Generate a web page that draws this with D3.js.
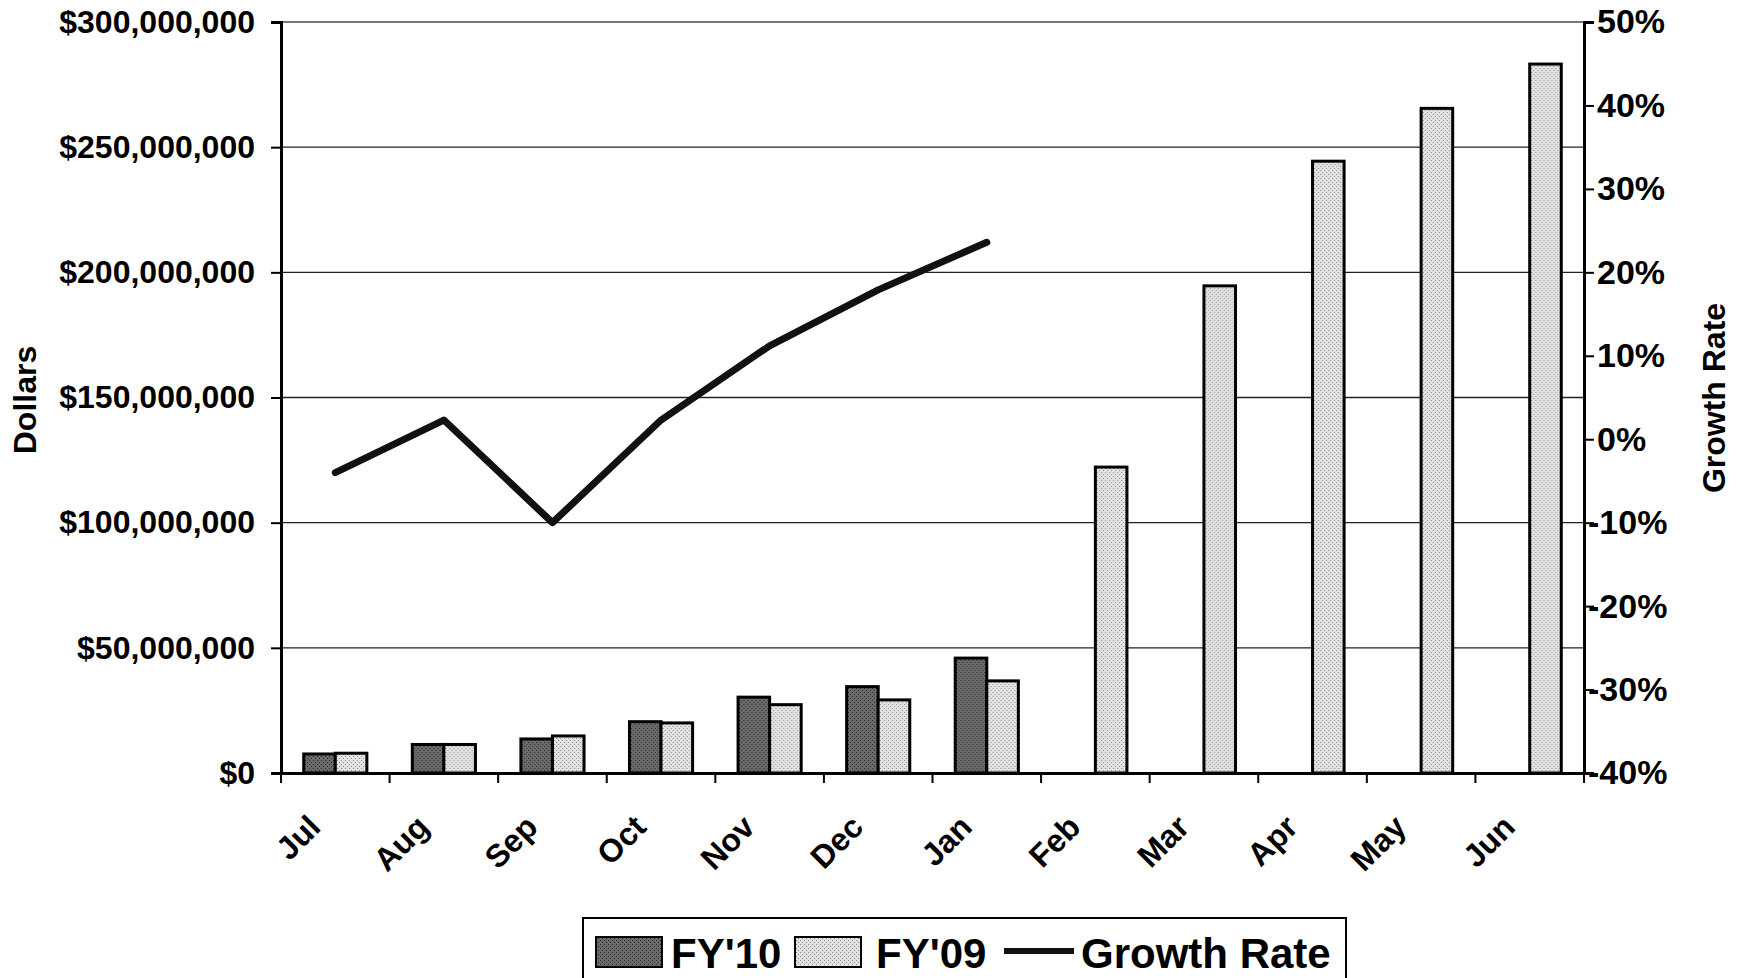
<!DOCTYPE html>
<html>
<head>
<meta charset="utf-8">
<script src="https://cdn.jsdelivr.net/npm/d3@7"></script>
<style>
  html, body { margin: 0; padding: 0; background: #fff; }
  svg { display: block; }
  text { font-family: "Liberation Sans", Arial, sans-serif; font-weight: bold; fill: #000; }
</style>
</head>
<body>
<svg id="chart" width="1739" height="978"></svg>
<script>
// ---- data ----
const months = ["Jul","Aug","Sep","Oct","Nov","Dec","Jan","Feb","Mar","Apr","May","Jun"];
const fy10 = [7.6e6, 11.4e6, 13.6e6, 20.5e6, 30.3e6, 34.5e6, 45.9e6, null, null, null, null, null];
const fy09 = [7.9e6, 11.4e6, 14.8e6, 20.0e6, 27.3e6, 29.2e6, 36.8e6, 122.2e6, 194.6e6, 244.4e6, 265.5e6, 283.2e6];
const growth = [-4.0, 2.3, -10.0, 2.3, 11.2, 17.9, 23.6];
const dollarTicks = [0, 50e6, 100e6, 150e6, 200e6, 250e6, 300e6];
const pctTicks = [-40, -30, -20, -10, 0, 10, 20, 30, 40, 50];
const seriesNames = ["FY'10", "FY'09"];
const legendItems = ["FY'10", "FY'09", "Growth Rate"];

// ---- layout ----
const svg = d3.select("#chart");
const pLeft = 281, pRight = 1584, pTop = 22, pBottom = 773;
const colFY10 = "#505050", colFY09 = "#d0d0d0";

// stipple patterns to mimic the scanned bar fills
const defs = svg.append("defs");
function stipple(id, base, dot, dotColor) {
  const p = defs.append("pattern").attr("id", id).attr("patternUnits", "userSpaceOnUse")
    .attr("width", 4).attr("height", 4);
  p.append("rect").attr("width", 4).attr("height", 4).attr("fill", base);
  p.append("rect").attr("x", 0).attr("y", 0).attr("width", dot).attr("height", dot).attr("fill", dotColor);
  p.append("rect").attr("x", 2).attr("y", 2).attr("width", dot).attr("height", dot).attr("fill", dotColor);
}
stipple("pat10", "#6a6a6a", 1, "#2a2a2a");
stipple("pat09", "#e2e2e2", 1, "#8a8a8a");

const x = d3.scaleBand().domain(months).range([pLeft, pRight]).padding(0);
const x1 = d3.scaleBand().domain(seriesNames).range([0, x.bandwidth()]).paddingInner(0).paddingOuter(0.72);
const y = d3.scaleLinear().domain([0, 300e6]).range([pBottom, pTop]);
const y2 = d3.scaleLinear().domain([-40, 50]).range([pBottom, pTop]);

const fmtDollar = v => "$" + d3.format(",")(v);

// gridlines
svg.append("g").selectAll("line").data(dollarTicks.filter(d => d > 0)).join("line")
  .attr("x1", pLeft).attr("x2", pRight)
  .attr("y1", d => y(d)).attr("y2", d => y(d))
  .attr("stroke", d => d === 300e6 ? "#777" : "#222")
  .attr("stroke-width", d => d === 300e6 ? 2 : 1.4);

// bars
const groups = svg.append("g").selectAll("g").data(months).join("g")
  .attr("transform", d => `translate(${x(d)},0)`);

groups.filter((d, i) => fy10[i] != null).append("rect")
  .attr("x", x1("FY'10"))
  .attr("y", d => y(fy10[months.indexOf(d)]))
  .attr("width", x1.bandwidth())
  .attr("height", d => y(0) - y(fy10[months.indexOf(d)]))
  .attr("fill", "url(#pat10)").attr("stroke", "#000").attr("stroke-width", 3);

groups.filter((d, i) => fy09[i] != null).append("rect")
  .attr("x", x1("FY'09"))
  .attr("y", d => y(fy09[months.indexOf(d)]))
  .attr("width", x1.bandwidth())
  .attr("height", d => y(0) - y(fy09[months.indexOf(d)]))
  .attr("fill", "url(#pat09)").attr("stroke", "#000").attr("stroke-width", 3);

// left axis
const yAxis = d3.axisLeft(y).tickValues(dollarTicks).tickFormat(fmtDollar).tickSize(10).tickPadding(16);
const gy = svg.append("g").attr("transform", `translate(${pLeft},0)`).call(yAxis);
gy.select(".domain").attr("stroke", "#000").attr("stroke-width", 3);
gy.selectAll(".tick line").attr("stroke", "#000").attr("stroke-width", 2);
gy.selectAll(".tick text").style("font-size", "32px").style("font-family", "Liberation Sans, Arial, sans-serif").style("font-weight", "bold");

// right axis
const yAxisR = d3.axisRight(y2).tickValues(pctTicks).tickFormat(d => d + "%").tickSize(10).tickPadding(13);
const gr = svg.append("g").attr("transform", `translate(${pRight},0)`).call(yAxisR);
gr.select(".domain").attr("stroke", "#000").attr("stroke-width", 3);
gr.selectAll(".tick line").attr("stroke", "#000").attr("stroke-width", 2);
gr.selectAll(".tick text").style("font-size", "34px").style("font-family", "Liberation Sans, Arial, sans-serif").style("font-weight", "bold")
  .attr("x", d => d < 0 ? 4 : 13);

// bottom axis
const xAxis = d3.axisBottom(x).tickSize(0).tickFormat("");
const gx = svg.append("g").attr("transform", `translate(0,${pBottom})`).call(xAxis);
gx.select(".domain").attr("stroke", "#000").attr("stroke-width", 3);
// boundary tick marks
svg.append("g").selectAll("line").data(d3.range(months.length + 1)).join("line")
  .attr("x1", i => pLeft + i * x.step()).attr("x2", i => pLeft + i * x.step())
  .attr("y1", pBottom).attr("y2", pBottom + 10)
  .attr("stroke", "#000").attr("stroke-width", 2);
// rotated month labels
svg.append("g").selectAll("text").data(months).join("text")
  .attr("transform", d => `translate(${x(d) + x.bandwidth() / 2 - 13},${pBottom + 56}) rotate(-45)`)
  .attr("text-anchor", "end")
  .style("font-size", "32px")
  .text(d => d);

// growth line
const line = d3.line().x((d, i) => x(months[i]) + x.bandwidth() / 2).y(d => y2(d));
svg.append("path").datum(growth)
  .attr("d", line)
  .attr("fill", "none").attr("stroke", "#111").attr("stroke-width", 7)
  .attr("stroke-linejoin", "round").attr("stroke-linecap", "round");

// axis titles
svg.append("text")
  .attr("transform", `translate(36,400) rotate(-90)`)
  .attr("text-anchor", "middle").style("font-size", "32px").text("Dollars");
svg.append("text")
  .attr("transform", `translate(1725,398) rotate(-90)`)
  .attr("text-anchor", "middle").style("font-size", "32px").text("Growth Rate");

// legend
const lg = svg.append("g");
lg.append("rect").attr("x", 583).attr("y", 918).attr("width", 763).attr("height", 80)
  .attr("fill", "#fff").attr("stroke", "#000").attr("stroke-width", 2);
const legendY = 968;
lg.append("rect").attr("x", 596).attr("y", 937).attr("width", 66).attr("height", 30)
  .attr("fill", "url(#pat10)").attr("stroke", "#000").attr("stroke-width", 2);
lg.append("text").attr("x", 671).attr("y", legendY).style("font-size", "42px").text(legendItems[0]);
lg.append("rect").attr("x", 795).attr("y", 937).attr("width", 66).attr("height", 30)
  .attr("fill", "url(#pat09)").attr("stroke", "#000").attr("stroke-width", 2);
lg.append("text").attr("x", 876).attr("y", legendY).style("font-size", "42px").text(legendItems[1]);
lg.append("line").attr("x1", 1004).attr("x2", 1074).attr("y1", 951).attr("y2", 951)
  .attr("stroke", "#111").attr("stroke-width", 6);
lg.append("text").attr("x", 1081).attr("y", legendY).style("font-size", "42px").text(legendItems[2]);
</script>
</body>
</html>
